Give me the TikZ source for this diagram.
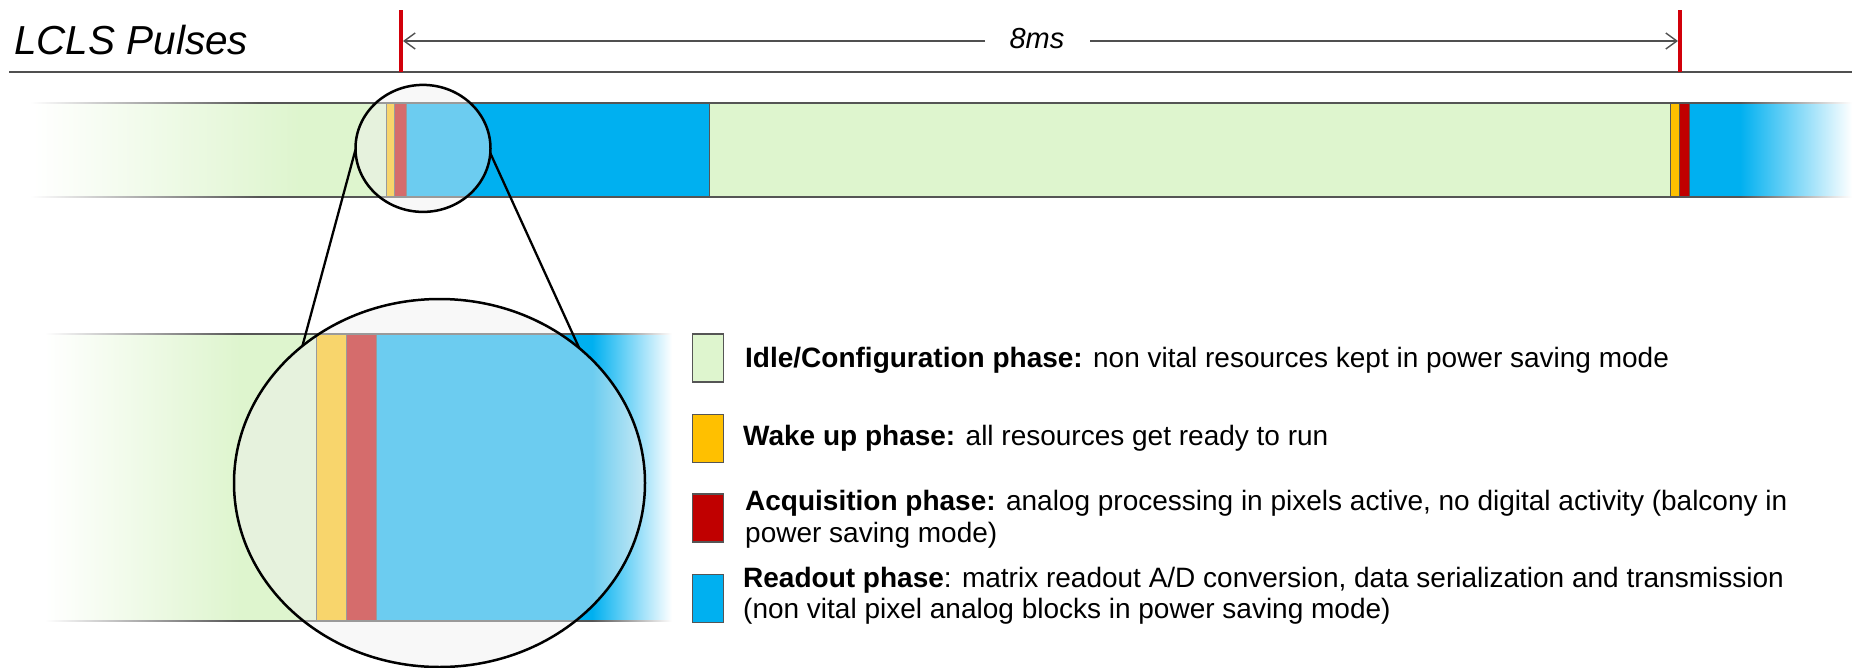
\documentclass[tikz,border=0pt]{standalone}
\usepackage{fontspec}
\setmainfont{Liberation Sans}
\usetikzlibrary{shapes.geometric,arrows.meta}
\definecolor{idle}{RGB}{222,245,206}
\definecolor{wake}{RGB}{255,192,0}
\definecolor{acq}{RGB}{192,0,0}
\definecolor{rdo}{RGB}{0,176,240}
\definecolor{edgegray}{RGB}{85,85,85}
\definecolor{tickred}{RGB}{210,0,10}
\definecolor{lensgray}{RGB}{240,240,240}
\definecolor{axisgray}{RGB}{80,80,80}
\begin{document}
\begin{tikzpicture}[x=1pt,y=-1pt,
  sepline/.style={draw=edgegray,line width=1pt},
  lens/.style={ellipse,draw=black,line width=2.5pt,fill=lensgray,fill opacity=0.45,inner sep=0pt,outer sep=0pt},
  zoomline/.style={draw=black,line width=2.3pt},
  redtick/.style={draw=tickred,line width=3.4pt},
  axisline/.style={draw=axisgray,line width=2pt},
  dimline/.style={draw=axisgray,line width=1.6pt,-{Straight Barb[length=11pt,width=16pt,line width=1.4pt]}},
  lgbox/.style={draw=edgegray,line width=1.1pt,minimum width=31pt,minimum height=48pt,inner sep=0pt},
  lgtext/.style={anchor=base west,inner sep=0pt,font=\fontsize{28}{32}\selectfont}
]
\useasboundingbox (0,0) rectangle (1852,667);
\fill[white] (0,0) rectangle (1852,667);

% ---------- title and time axis ----------
\node[anchor=base west,inner sep=0pt,font=\fontsize{40.5}{46}\selectfont\itshape] (title) at (14,54) {LCLS Pulses};
\draw[axisline] (9,72) -- (1852,72);
\coordinate (tlt) at (401,10); \coordinate (tlb) at (401,72);
\coordinate (trt) at (1680,10); \coordinate (trb) at (1680,72);
\draw[redtick] (tlt) -- (tlb);
\draw[redtick] (trt) -- (trb);
\node[anchor=base,inner sep=0pt,font=\fontsize{29}{32}\selectfont\itshape] (ms) at (1037,48) {8ms};
\coordinate (ml) at (985,41); \coordinate (mr) at (1090,41);
\coordinate (al) at (403,41); \coordinate (ar) at (1678,41);
\draw[dimline] (ml) -- (al);
\draw[dimline] (mr) -- (ar);

% ---------- top bar ----------
\shade[left color=white,right color=idle] (33,103) rectangle (300,197);
\fill[idle] (299.5,103) rectangle (386,197);
\fill[wake] (386,103) rectangle (394,197);
\fill[acq] (394,103) rectangle (406,197);
\fill[rdo] (406,103) rectangle (709,197);
\fill[idle] (709,103) rectangle (1670,197);
\fill[wake] (1670,103) rectangle (1679,197);
\fill[acq] (1679,103) rectangle (1689,197);
\fill[rdo] (1689,103) rectangle (1740.5,197);
\shade[left color=rdo,right color=white] (1740,103) rectangle (1852,197);
\foreach \yy in {103,197}{
  \shade[left color=white,right color=edgegray] (30,\yy-0.9) rectangle (260,\yy+0.9);
  \fill[edgegray] (259.5,\yy-0.9) rectangle (1740.5,\yy+0.9);
  \shade[left color=edgegray,right color=white] (1740,\yy-0.9) rectangle (1852,\yy+0.9);
}
\foreach \xx in {386,394,406,709,1670,1679,1689}{\draw[sepline] (\xx,103) -- (\xx,197);}

% ---------- magnified bar ----------
\shade[left color=white,right color=idle] (45,334) rectangle (240,621);
\fill[idle] (239.5,334) rectangle (316.5,621);
\fill[wake] (316.5,334) rectangle (346,621);
\fill[acq] (346,334) rectangle (376,621);
\fill[rdo] (376,334) rectangle (592.5,621);
\shade[left color=rdo,right color=white] (592,334) rectangle (672,621);
\foreach \yy in {334,621}{
  \shade[left color=white,right color=edgegray] (45,\yy-0.9) rectangle (240,\yy+0.9);
  \fill[edgegray] (239.5,\yy-0.9) rectangle (592.5,\yy+0.9);
  \shade[left color=edgegray,right color=white] (592,\yy-0.9) rectangle (672,\yy+0.9);
}
\foreach \xx in {316.5,346,376}{\draw[sepline] (\xx,334) -- (\xx,621);}

% ---------- lenses ----------
\node[lens,minimum width=135pt,minimum height=127pt] (sm) at (423,148.4) {};
\node[lens,minimum width=411pt,minimum height=368pt] (bg) at (439.5,483) {};
\draw[zoomline] (sm.181) -- (bg.135);
\draw[zoomline] (sm.-4) -- (bg.44);

% ---------- legend ----------
\node[lgbox,fill=idle] (b1) at (707.8,358) {};
\node[lgbox,fill=wake] (b2) at (707.8,438.5) {};
\node[lgbox,fill=acq] (b3) at (707.8,518) {};
\node[lgbox,fill=rdo] (b4) at (707.8,598.3) {};
\node[lgtext] (t1) at (745,367) {\textbf{Idle/Configuration phase:} non vital resources kept in power saving mode};
\node[lgtext] (t2) at (743,445) {\textbf{Wake up phase:} all resources get ready to run};
\node[lgtext] (t3a) at (745,510) {\textbf{Acquisition phase:} analog processing in pixels active, no digital activity (balcony in};
\node[lgtext] (t3b) at (745,542) {power saving mode)};
\node[lgtext] (t4a) at (743,587) {\textbf{Readout phase}: matrix readout A/D conversion, data serialization and transmission};
\node[lgtext] (t4b) at (743,618) {(non vital pixel analog blocks in power saving mode)};
\end{tikzpicture}
\end{document}
